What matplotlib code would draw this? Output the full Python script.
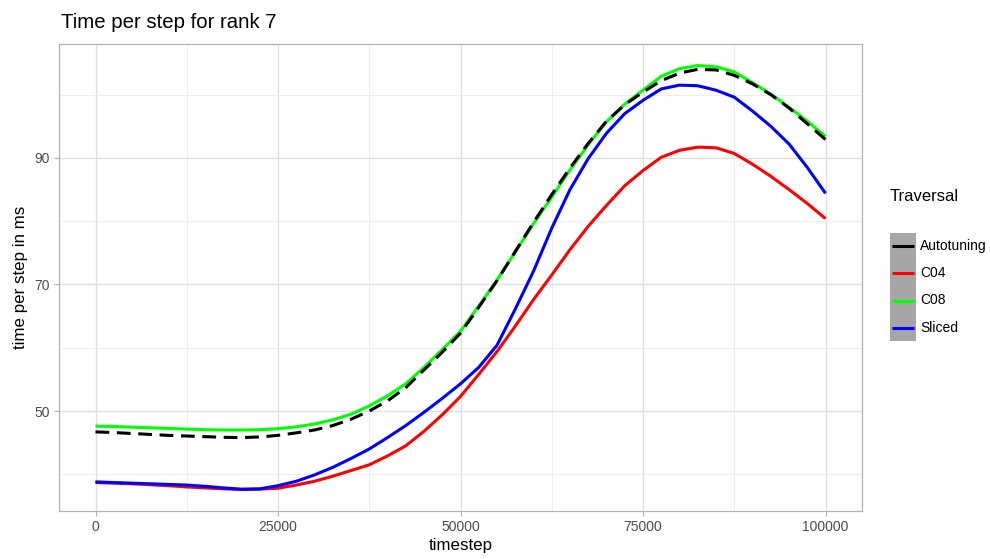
import matplotlib
matplotlib.use("Agg")
import matplotlib.pyplot as plt
from matplotlib.lines import Line2D
from matplotlib.patches import Rectangle

plt.rcParams['font.family'] = ['Liberation Sans', 'DejaVu Sans']

timestep = list(range(0, 100001, 2500))
autotuning = [46.7, 46.6, 46.45, 46.3, 46.15, 46.05, 45.95, 45.85, 45.8, 45.9,
              46.15, 46.55, 47.0, 47.7, 48.7, 50.0, 51.6, 53.7, 56.5, 59.3,
              62.3, 66.4, 70.6, 75.2, 79.8, 84.2, 88.4, 92.3, 95.8, 98.4,
              100.4, 102.2, 103.4, 104.0, 103.9, 103.05, 101.7, 100.0, 97.9, 95.4,
              92.9]
c04 = [38.7, 38.6, 38.5, 38.35, 38.2, 38.0, 37.85, 37.7, 37.6, 37.65,
       37.8, 38.3, 38.9, 39.7, 40.6, 41.5, 42.9, 44.5, 46.8, 49.4,
       52.3, 55.8, 59.4, 63.4, 67.6, 71.5, 75.5, 79.2, 82.5, 85.6,
       88.0, 90.1, 91.2, 91.7, 91.6, 90.7, 89.0, 87.1, 85.0, 82.8,
       80.4]
c08 = [47.6, 47.55, 47.45, 47.35, 47.25, 47.15, 47.05, 47.0, 47.0, 47.05,
       47.2, 47.5, 47.95, 48.6, 49.5, 50.8, 52.4, 54.3, 56.9, 59.7,
       62.6, 66.6, 70.7, 75.1, 79.6, 83.8, 88.1, 92.1, 95.7, 98.5,
       100.7, 102.9, 104.1, 104.6, 104.4, 103.6, 101.9, 100.1, 98.0, 95.8,
       93.4]
sliced = [38.8, 38.7, 38.6, 38.5, 38.4, 38.3, 38.1, 37.85, 37.65, 37.7,
          38.2, 38.9, 39.9, 41.1, 42.5, 44.0, 45.8, 47.7, 49.8, 52.0,
          54.3, 56.9, 60.4, 66.1, 72.1, 78.9, 85.0, 89.9, 93.9, 97.0,
          99.1, 100.9, 101.5, 101.4, 100.7, 99.6, 97.4, 95.0, 92.2, 88.5,
          84.4]

series = [("Autotuning", autotuning, "black"),
          ("C04", c04, "#FF0000"),
          ("C08", c08, "#00FF00"),
          ("Sliced", sliced, "#0000FF")]

x_ticks = [0, 25000, 50000, 75000, 100000]
x_minor = [12500, 37500, 62500, 87500]
y_ticks = [50, 70, 90]
y_minor = [40, 60, 80, 100]

fig = plt.figure(figsize=(9.9, 5.59), dpi=100)
ax = fig.add_axes([59/990, 1-511/559, (862-59)/990, (511-44)/559])

for name, vals, col in series:
    if name == "Autotuning":
        ax.plot(timestep, vals, color=col, lw=2.2, dashes=(4.5, 2.5),
                dash_capstyle='butt', zorder=5)
    else:
        ax.plot(timestep, vals, color=col, lw=2.2, zorder=3,
                solid_capstyle='butt', solid_joinstyle='round')

ax.set_xlim(-5000, 105000)
ax.set_ylim(34.2, 108.0)
ax.set_xticks(x_ticks)
ax.set_xticklabels([str(t) for t in x_ticks])
ax.set_xticks(x_minor, minor=True)
ax.set_yticks(y_ticks)
ax.set_yticks(y_minor, minor=True)

ax.grid(True, which='major', color='#DEDEDE', lw=0.9, zorder=0)
ax.grid(True, which='minor', color='#EBEBEB', lw=0.6, zorder=0)
ax.set_axisbelow(True)
for s in ax.spines.values():
    s.set_color('#B3B3B3')
    s.set_linewidth(0.9)
ax.tick_params(which='major', length=3.5, color='#B3B3B3', width=0.8,
               labelsize=10, labelcolor='#4D4D4D', pad=3)
ax.tick_params(which='minor', length=0)

ax.set_xlabel("timestep", fontsize=12.2, color='black', labelpad=3)
ax.set_ylabel("time per step in ms", fontsize=12.2, color='black', labelpad=5)
fig.text(61/990, 1-22/559, "Time per step for rank 7", fontsize=14.7,
         ha='left', va='center', color='black')

# legend
fig.text(890/990, 1-196/559, "Traversal", fontsize=12, ha='left', va='center')
key_left, key_w = 890, 26
key_top, key_h = 233, 27
fig.add_artist(Rectangle((key_left/990, 1-(key_top+4*key_h)/559), key_w/990,
                         4*key_h/559, transform=fig.transFigure,
                         facecolor='#A6A6A6', edgecolor='none'))
for i, (name, vals, col) in enumerate(series):
    yc = 1-(key_top + key_h*(i+0.5))/559
    fig.add_artist(Line2D([(key_left+2)/990, (key_left+key_w-2)/990], [yc, yc],
                          transform=fig.transFigure, color=col, lw=2.2,
                          solid_capstyle='butt'))
    fig.text((key_left+key_w+4)/990, yc, name, fontsize=10, ha='left',
             va='center', color='black')

fig.savefig("out.png", dpi=100)
